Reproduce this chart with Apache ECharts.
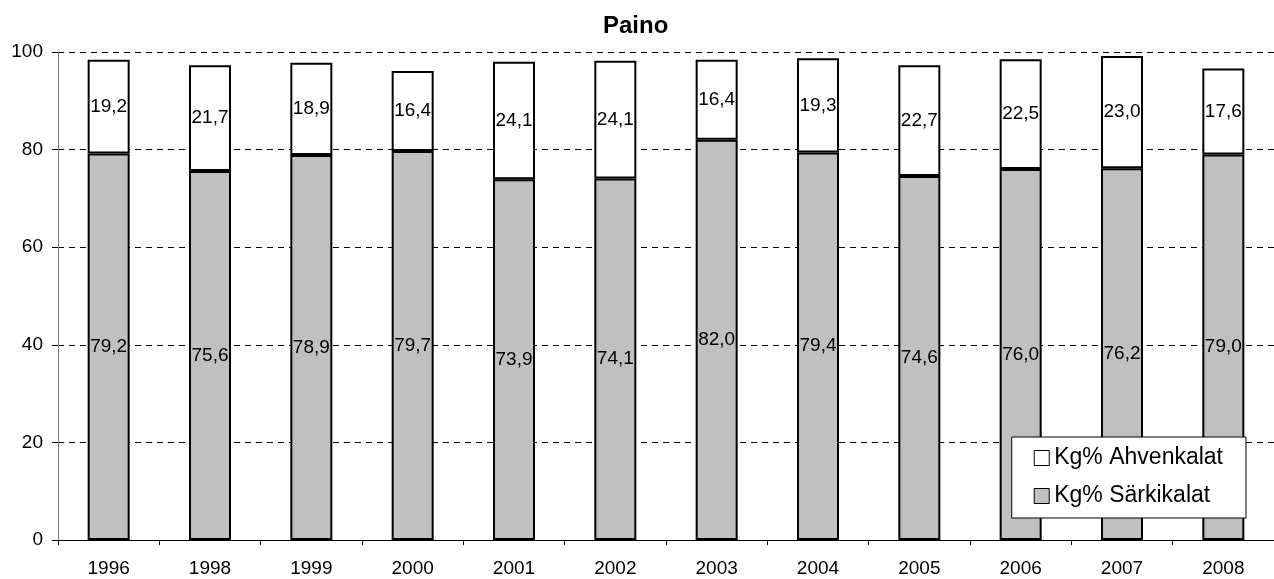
<!DOCTYPE html>
<html><head><meta charset="utf-8">
<script src="https://cdn.jsdelivr.net/npm/echarts@6/dist/echarts.min.js"></script>
<style>html,body{margin:0;padding:0;background:#fff}#c{width:1274px;height:579px}</style>
</head><body><div id="c"></div>
<script>
const years = ['1996','1998','1999','2000','2001','2002','2003','2004','2005','2006','2007','2008'];
const sarkikalat = [79.2,75.6,78.9,79.7,73.9,74.1,82.0,79.4,74.6,76.0,76.2,79.0];
const ahvenkalat = [19.2,21.7,18.9,16.4,24.1,24.1,16.4,19.3,22.7,22.5,23.0,17.6];
const yTicks = [0,20,40,60,80,100];

const font = 'Liberation Sans, Arial, sans-serif';
const fmt = p => p.value.toFixed(1).replace('.', ',');
const chart = echarts.init(document.getElementById('c'));
chart.setOption({
  animation: false,
  backgroundColor: '#fff',
  title: { text: 'Paino', left: 598, top: 9, textStyle: { fontFamily: font, fontSize: 24, fontWeight: 'bold', color: '#000' } },
  grid: { left: 58, right: -5, top: 52, bottom: 39 },
  legend: {
    orient: 'vertical', right: 28, bottom: 61,
    data: ['Kg% Ahvenkalat', 'Kg% Särkikalat'],
    itemWidth: 15, itemHeight: 15, itemGap: 14, itemStyle: { borderColor: '#000', borderWidth: 1 },
    padding: [9, 23, 10, 22],
    borderColor: '#000', borderWidth: 1, backgroundColor: '#fff', borderRadius: 0,
    textStyle: { fontFamily: font, fontSize: 23, lineHeight: 24, color: '#000' },
    icon: 'rect'
  },
  xAxis: {
    type: 'category', data: years,
    axisLine: { lineStyle: { color: '#000', width: 1 } },
    axisTick: { show: true, alignWithLabel: false, length: 5, lineStyle: { color: '#000' } },
    axisLabel: { fontFamily: font, fontSize: 19, color: '#000', margin: 19 }
  },
  yAxis: {
    type: 'value', min: yTicks[0], max: yTicks[yTicks.length-1], interval: 20,
    axisLine: { show: true, lineStyle: { color: '#808080' } },
    axisTick: { show: true, length: 6, lineStyle: { color: '#000' } },
    axisLabel: { fontFamily: font, fontSize: 19, color: '#000', margin: 15 },
    splitLine: { lineStyle: { color: '#000', type: [6, 5], width: 1 } }
  },
  series: [
    { name: 'Kg% Särkikalat', type: 'bar', stack: 's', data: sarkikalat, barWidth: 42,
      itemStyle: { color: '#c0c0c0', borderColor: '#000', borderWidth: 2 },
      label: { show: true, position: 'inside', formatter: fmt, fontFamily: font, fontSize: 19, color: '#000' } },
    { name: 'Kg% Ahvenkalat', type: 'bar', stack: 's', data: ahvenkalat, barWidth: 42,
      itemStyle: { color: '#fff', borderColor: '#000', borderWidth: 2 },
      label: { show: true, position: 'inside', formatter: fmt, fontFamily: font, fontSize: 19, color: '#000' } }
  ]
});
</script></body></html>
